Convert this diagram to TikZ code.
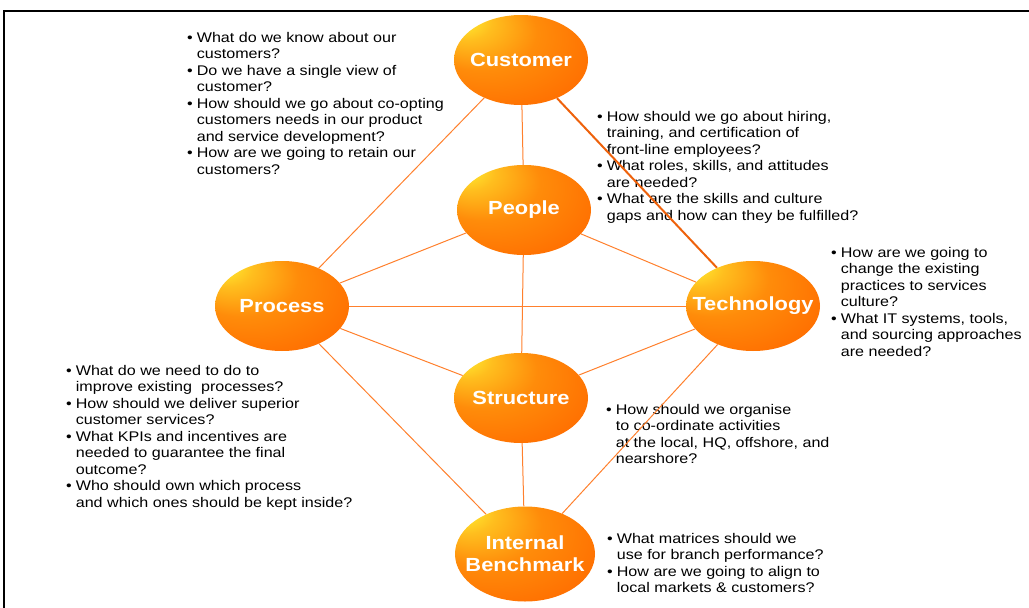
\documentclass[tikz,border=0pt]{standalone}
\usepackage{fontspec}
\setmainfont{Liberation Sans}
\newfontfamily\bodyf[FakeStretch=1.15]{Liberation Sans}
\usetikzlibrary{shapes.geometric}
\definecolor{hlc}{RGB}{255,240,50}
\definecolor{yoc}{RGB}{255,190,30}
\definecolor{midc}{RGB}{255,140,10}
\definecolor{orc}{RGB}{255,108,0}
\definecolor{edgec}{RGB}{242,76,0}
\definecolor{linec}{RGB}{255,128,45}
\definecolor{darkline}{RGB}{238,98,12}
\pgfdeclareradialshading{orb}{\pgfpoint{-26bp}{26bp}}{color(0bp)=(hlc);color(3bp)=(hlc);color(10bp)=(yoc);color(21bp)=(midc);color(38bp)=(orc);color(50bp)=(edgec)}
\pgfdeclarelayer{textl}
\pgfdeclarelayer{linel}
\pgfsetlayers{textl,linel,main}
\newcommand{\qblock}[1]{\begin{tabular}[t]{@{}l@{\hspace{4pt}}l@{}}#1\end{tabular}}
\newcommand{\zb}[1]{\makebox[0pt][c]{#1}}
\tikzset{
  orbnode/.style={ellipse, shading=orb, minimum width=134pt, minimum height=90pt, inner sep=0pt, text=white, font=\bodyf\bfseries\fontsize{19}{22}\selectfont, align=center},
  link/.style={draw=linec, line width=1pt},
  boldlink/.style={draw=darkline, line width=2pt},
  qtext/.style={anchor=base west, inner sep=0pt, font=\bodyf\fontsize{14}{16.5}\selectfont},
  frameline/.style={draw=black, line width=2pt}
}
\begin{document}
\begin{tikzpicture}[x=1pt,y=-1pt]
\useasboundingbox (0,0) rectangle (1029,608);
\draw[frameline] (4,608) -- (4,11) -- (1029,11);

\node[orbnode] (cust) at (521,60) {\zb{Customer}};
\node[orbnode] (peop) at (524,210) {\zb{People}};
\node[orbnode] (proc) at (282,306) {\zb{Process}};
\node[orbnode] (tech) at (753,306) {\zb{Technology}};
\node[orbnode] (struc) at (521,398) {\zb{Structure}};
\node[orbnode, minimum width=140pt, minimum height=95pt] (bench) at (525,554) {\zb{\raisebox{-4pt}{Internal}}\\\zb{\raisebox{-4pt}{Benchmark}}};

\begin{pgfonlayer}{textl}
\node[qtext] (q1) at (187,42) {\qblock{%
• & What do we know about our\\
  & customers?\\
• & Do we have a single view of\\
  & customer?\\
• & How should we go about co-opting\\
  & customers needs in our product\\
  & and service development?\\
• & How are we going to retain our\\
  & customers?}};
\node[qtext] (q2) at (597,121) {\qblock{%
• & How should we go about hiring,\\
  & training, and certification of\\
  & front-line employees?\\
• & What roles, skills, and attitudes\\
  & are needed?\\
• & What are the skills and culture\\
  & gaps and how can they be fulfilled?}};
\node[qtext] (q3) at (831,257) {\qblock{%
• & How are we going to\\
  & change the existing\\
  & practices to services\\
  & culture?\\
• & What IT systems, tools,\\
  & and sourcing approaches\\
  & are needed?}};
\node[qtext] (q4) at (66,375) {\qblock{%
• & What do we need to do to\\
  & improve existing\ \ processes?\\
• & How should we deliver superior\\
  & customer services?\\
• & What KPIs and incentives are\\
  & needed to guarantee the final\\
  & outcome?\\
• & Who should own which process\\
  & and which ones should be kept inside?}};
\node[qtext] (q5) at (606,414) {\qblock{%
• & How should we organise\\
  & to co-ordinate activities\\
  & at the local, HQ, offshore, and\\
  & nearshore?}};
\node[qtext] (q6) at (607,543) {\qblock{%
• & What matrices should we\\
  & use for branch performance?\\
• & How are we going to align to\\
  & local markets \& customers?}};
\end{pgfonlayer}

\begin{pgfonlayer}{linel}
\draw[link] (cust) -- (peop);
\draw[link] (cust) -- (proc);
\draw[boldlink] (cust) -- (tech);
\draw[link] (peop) -- (proc);
\draw[link] (peop) -- (tech);
\draw[link] (proc) -- (tech);
\draw[link] (peop) -- (struc);
\draw[link] (proc) -- (struc);
\draw[link] (struc) -- (tech);
\draw[link] (struc) -- (bench);
\draw[link] (proc) -- (bench);
\draw[link] (tech) -- (bench);
\end{pgfonlayer}
\end{tikzpicture}
\end{document}
